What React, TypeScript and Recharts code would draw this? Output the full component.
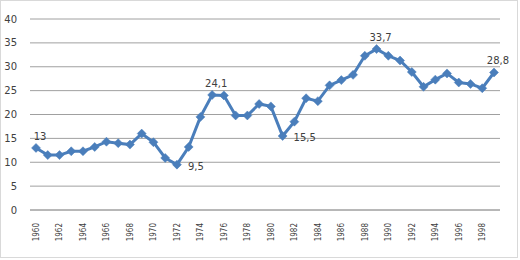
import { LineChart, Line, XAxis, YAxis, CartesianGrid } from 'recharts'

const years = [
  '1960', '1961', '1962', '1963', '1964', '1965', '1966', '1967', '1968', '1969',
  '1970', '1971', '1972', '1973', '1974', '1975', '1976', '1977', '1978', '1979',
  '1980', '1981', '1982', '1983', '1984', '1985', '1986', '1987', '1988', '1989',
  '1990', '1991', '1992', '1993', '1994', '1995', '1996', '1997', '1998', '1999',
]

const values = [
  13, 11.5, 11.5, 12.3, 12.3, 13.2, 14.3, 14.0, 13.7, 16.0,
  14.2, 10.9, 9.5, 13.2, 19.5, 24.1, 24.0, 19.8, 19.8, 22.2,
  21.7, 15.5, 18.5, 23.4, 22.8, 26.1, 27.2, 28.3, 32.3, 33.7,
  32.3, 31.3, 28.9, 25.8, 27.3, 28.6, 26.7, 26.4, 25.5, 28.8,
]

const yTicks = [0, 5, 10, 15, 20, 25, 30, 35, 40]

// years that carry a data label, and where it sits
const labelled: Record<string, 'top' | 'right'> = {
  '1960': 'top',
  '1972': 'right',
  '1975': 'top',
  '1981': 'right',
  '1989': 'top',
  '1999': 'top',
}

const data = years.map((year, i) => ({ year, value: values[i] }))

const lineColor = '#4a7ebb'
const textColor = '#404040'

const Diamond = ({ cx, cy }: any) => {
  if (cx == null || cy == null) return null
  const r = 4.5
  return (
    <polygon
      points={`${cx},${cy - r} ${cx + r},${cy} ${cx},${cy + r} ${cx - r},${cy}`}
      fill={lineColor}
      stroke={lineColor}
      strokeWidth={0.5}
    />
  )
}

// rotated year label, reads bottom to top, top end just under the axis
const renderYearTick = ({ x, y, payload }: any) => {
  const ty = y + 3
  return (
    <text
      x={x}
      y={ty}
      textAnchor="end"
      dy="0.35em"
      fontSize={8}
      fontFamily="'DejaVu Sans Condensed', 'DejaVu Sans', sans-serif"
      fill={textColor}
      style={{ transform: 'rotate(-90deg)', transformOrigin: `${x}px ${ty}px`, transformBox: 'view-box' }}
    >
      {payload.value}
    </text>
  )
}

const PointLabel = ({ x, y, value, index }: any) => {
  const pos = labelled[years[index]]
  if (!pos) return null
  const text = String(value).replace('.', ',')
  if (pos === 'right') {
    return (
      <text x={x + 11} y={y + 2} dy="0.35em" fontSize={10} fill={textColor}
        fontFamily="'DejaVu Sans', sans-serif">
        {text}
      </text>
    )
  }
  return (
    <text x={x + 4} y={y - 8} textAnchor="middle" fontSize={10} fill={textColor}
      fontFamily="'DejaVu Sans', sans-serif">
      {text}
    </text>
  )
}

export default function App() {
  return (
    <div style={{ position: 'absolute', left: 0, top: 0, width: 520, height: 260, background: '#fff' }}>
      <div style={{
        position: 'absolute', left: 0, top: 0, width: 516, height: 256,
        border: '1px solid #d9d9d9',
      }} />
      <LineChart width={520} height={260} data={data}
        margin={{ top: 19, right: 20, left: 0, bottom: 0 }}>
        <CartesianGrid vertical={false} stroke="#a0a0a0" />
        <XAxis
          dataKey="year"
          height={50}
          interval={1}
          padding={{ left: 6, right: 6 }}
          stroke="#a0a0a0"
          tickLine={false}
          tickMargin={4}
          tick={renderYearTick}
        />
        <YAxis
          width={30}
          domain={[0, 40]}
          ticks={yTicks}
          axisLine={false}
          tickLine={false}
          tickMargin={7}
          tick={{ fontSize: 10, fill: textColor, fontFamily: "'DejaVu Sans', sans-serif" }}
        />
        <Line
          type="linear"
          dataKey="value"
          stroke={lineColor}
          strokeWidth={3}
          dot={<Diamond />}
          activeDot={false}
          label={<PointLabel />}
          isAnimationActive={false}
        />
      </LineChart>
    </div>
  )
}
